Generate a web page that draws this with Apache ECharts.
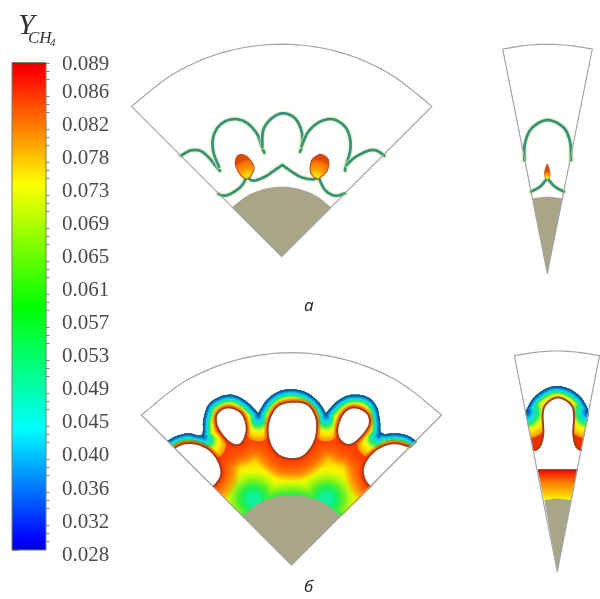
<!DOCTYPE html>
<html>
<head>
<meta charset="utf-8">
<style>html,body{margin:0;padding:0;background:#fff}#chart{width:600px;height:599px}</style>
<script src="https://cdn.jsdelivr.net/npm/echarts@6/dist/echarts.min.js"></script>
</head>
<body>
<div id="chart"></div>
<script>
// colour bar
var tickValues = [0.02800,0.03213,0.03626,0.04039,0.04452,0.04865,0.05278,0.05691,0.06104,0.06517,0.06930,0.07343,0.07756,0.08169,0.08582,0.08900];
var barColors = ['#0000c8','#0000ff','#00ffff','#00ff00','#ffff00','#ff0000','#e00000'];
var barStops = [0,0.02,0.25,0.5,0.75,0.98,1];

// панель а, слева  (a repeated point is a sharp corner)
var sectorA = [[281.7,256.7],[281.7,256.7],[131.4,106.4],[131.4,106.4],[175.5,72.7],[226.7,51.4],[281.7,44.2],[336.7,51.4],[387.9,72.7],[432,106.4],[432,106.4],[281.7,256.7],[281.7,256.7]];
var drumA = [[232,207.5],[232,207.5],[246.7,196],[263.6,189.1],[281.7,186.7],[299.8,189.1],[316.7,196],[331.2,207.5],[331.2,207.5],[281.7,256.7],[281.7,256.7]];
var aShoulderL = [[181,155.7],[190,150.7],[200,150.7],[208.3,157],[215,165],[220,170.7]];
var aLobe1 = [[219,166.7],[213.3,151.7],[213.3,136.7],[220,125],[231.7,119.3],[245,121.7],[256.7,133.3],[261.7,146.7],[264.3,152.7]];
var aLobe2 = [[262.3,146.7],[263.3,130],[271.7,118.3],[283.3,113.3],[295,118.3],[301.7,131.7],[301.7,146],[300,151.7]];
var aLobe3 = [[301.7,146],[308.3,131.7],[320,121.7],[333.3,119.3],[345,126.7],[350,138.3],[350,151.7],[346,165],[345,170.7]];
var aShoulderR = [[346.7,165],[355,157.3],[368.3,150.7],[376.7,150.7],[384.3,155.7]];
var aLower = [[218.3,194],[225,195.7],[233.3,192.3],[241.7,185.7],[246.7,176.7],[246.7,176.7],[253.3,180.7],[265,176.7],[275,170],[282.3,165],[282.3,165],[291.7,171.7],[301.7,177.3],[313.3,179.3],[318.3,176.7],[318.3,176.7],[325,190],[335,195.7],[345,193.3]];
var aBlobL = [[241,154.5],[248,157.5],[253.8,166.7],[252,174],[247,179],[240.5,175],[235.5,165],[236.5,157.5]];
var aBlobR = [[321.7,154.5],[328.5,160],[327.5,170],[322,176],[316.7,179],[310.5,172],[311.5,161],[316.5,156]];

// панель а, справа
var sectorA2 = [[547.3,273.3],[547.3,273.3],[502.7,49],[502.7,49],[525,45.5],[547.3,44.3],[569.8,45.5],[592.3,49],[592.3,49],[547.3,273.3],[547.3,273.3]];
var drumA2 = [[532.7,198.3],[532.7,198.3],[547.3,196.7],[562.7,198.3],[562.7,198.3],[547.3,273.3],[547.3,273.3]];
var a2Arch = [[524.3,160],[525,143.3],[531.7,128.3],[547.3,120],[563.3,127.3],[570,141.7],[571,160]];
var a2Lower = [[531,191.7],[540,186.7],[547.3,178.3],[547.3,178.3],[555,186.7],[564,191.7]];
var a2Blob = [[547.3,164],[549.5,170],[550,176],[547.3,180],[544.6,176],[545,170]];

// панель б, слева
var sectorB = [[291.5,565],[291.5,565],[141.4,415],[141.4,415],[185.3,381.1],[236.5,360],[291.5,352.7],[346.5,360],[397.7,381.1],[441.6,415],[441.6,415],[291.5,565],[291.5,565]];
var drumB = [[243,516],[243,516],[257,504.4],[273.7,497.4],[291.5,495],[309.6,497.4],[326.5,504.4],[340.5,516],[340.5,516],[291.5,565],[291.5,565]];
var bOuter = [[167.7,440.7],[176.7,436],[188.3,433.3],[201.7,435],[203.3,420],[208.3,405],[220,396.7],[233.3,395],[246.7,401.7],[258.3,413.3],[258.3,413.3],[266.7,400],[278.3,391.7],[292.3,389.3],[306.7,392.7],[318.3,401.7],[326,413.3],[326,413.3],[336.7,401.7],[350,395],[366.7,396.7],[376.7,406.7],[380,421.7],[381.7,433.3],[396.7,433.3],[408.3,436],[416.7,441.7]];
var bApex = [[416.7,441.7],[291.5,565],[291.5,565],[167.7,440.7],[167.7,440.7]];
var bPockets = [[258.3,413.3],[326,413.3],[202,435],[381,433.5]];
var bPocketDirs = [[0,1],[0,1],[0.7,0.7],[-0.7,0.7]];
var bHoleC = [[292.3,401.7],[308.3,405],[316.7,420],[315,440],[305,455],[292.3,459],[278.3,455],[269.3,441.7],[268.3,423.3],[276.7,406.7]];
var bHoleL = [[228.3,407.3],[241.7,413.3],[246.7,428.3],[242.7,441.7],[235,445],[225,438.3],[216.7,425],[217.3,413.3]];
var bHoleR = [[354,407.3],[367.3,413.3],[369.3,425],[360,438.3],[349.3,445],[340,440],[337.3,428.3],[343.3,413.3]];
var bCutL = [[170,450],[170,450],[175,447.3],[185,443.3],[198.3,444.3],[211.7,451.7],[220,465],[220.7,476.7],[213.3,486.7],[205,492],[205,492]];
var bCutR = [[414,450],[414,450],[409.3,446.7],[396.7,443.3],[385,445],[371.7,453.3],[363.3,466.7],[364.3,478.3],[370,486.7],[378,492],[378,492]];
var bSeeds = [[253.3,499],[326.7,499]];
var bDrumTop = [[243,516],[257,504.4],[273.7,497.4],[291.5,495],[309.6,497.4],[326.5,504.4],[340.5,516]];

// панель б, справа
var sectorB2 = [[557.3,571.7],[557.3,571.7],[514.3,355.7],[514.3,355.7],[535.7,352.3],[557.3,351],[578.7,352.3],[599.5,355.7],[599.5,355.7],[557.3,571.7],[557.3,571.7]];
var drumB2 = [[544.3,500],[544.3,500],[557.3,498.5],[571,500],[571,500],[557.3,571.7],[557.3,571.7]];
var b2Arch = [[525.4,411.7],[533.3,398.3],[545,389.3],[556.7,386],[570,389.3],[581.7,398.3],[589,411.7]];
var b2Clip = [[589,411.7],[581.6,451],[581.6,451],[532.9,451],[532.9,451],[525.4,411.7]];
var b2Ends = [[526,412],[588.5,412]];
var b2Hole = [[530,453],[530,453],[536,450],[540.5,445],[543.3,433.3],[542.7,413.3],[546.7,403.3],[558,397.3],[570,403.3],[574,413.3],[573.3,433.3],[575.5,445],[580,450],[585,453],[585,453]];
var b2Gas = [[537.7,469.3],[577.7,469.3],[571,500],[544,500]];

// цвета полос у фронта (от холодного к горячему задаются расстоянием d)
var bandD = [14,13,12,11,10,9,8,7,6,5,4,3,2,1.2];
var bandC = ['#ff9c00','#ffb400','#ffd000','#ffe800','#f4f800','#c8f820','#80f040','#30e860','#10e8a0','#10e0d0','#10c8e8','#0898dc','#0870b8','#0a5a90'];
var fieldD = [50,47,44,41,38,35,33,31,29,27,25,23,21,19,17,15,13,11,9,7,5];
var fieldC = ['#ff9600','#ffa000','#ffaa00','#ffb600','#ffc200','#ffce00','#ffda00','#ffe600','#fff000','#f0f400','#e0f800','#c4f808','#a8f810','#8cf418','#70f020','#50f030','#30f040','#20f058','#10f070','#10f088','#10f0a0'];
var gasStops = [0,0.08,0.45,0.8,0.95,1];
var gasColors = ['#a81000','#f01800','#ff8000','#ffc800','#fff000','#ffff90'];

function xy(api, pts) { return pts.map(function (p) { return api.coord(p); }); }

// Catmull-Rom in pixels; a repeated point breaks the curve into runs
function smoothRun(p, closed) {
    var out = [], n = p.length, cnt = closed ? n : n - 1;
    if (n < 3) return p.slice();
    for (var i = 0; i < cnt; i++) {
        var a = closed ? p[(i - 1 + n) % n] : p[Math.max(i - 1, 0)];
        var b = p[i], c = p[(i + 1) % n];
        var d = closed ? p[(i + 2) % n] : p[Math.min(i + 2, n - 1)];
        for (var k = 0; k < 8; k++) {
            var t = k / 8, t2 = t * t, t3 = t2 * t;
            out.push([
                0.5 * (2 * b[0] + (c[0] - a[0]) * t + (2 * a[0] - 5 * b[0] + 4 * c[0] - d[0]) * t2 + (3 * b[0] - a[0] - 3 * c[0] + d[0]) * t3),
                0.5 * (2 * b[1] + (c[1] - a[1]) * t + (2 * a[1] - 5 * b[1] + 4 * c[1] - d[1]) * t2 + (3 * b[1] - a[1] - 3 * c[1] + d[1]) * t3)
            ]);
        }
    }
    if (!closed) out.push(p[n - 1]);
    return out;
}
function curve(api, pts, closed) {
    var p = xy(api, pts), runs = [], run = [p[0]], hasCorner = false;
    for (var i = 1; i < p.length; i++) {
        if (p[i][0] === p[i - 1][0] && p[i][1] === p[i - 1][1]) { runs.push(run); run = [p[i]]; hasCorner = true; }
        else run.push(p[i]);
    }
    runs.push(run);
    if (!hasCorner) return smoothRun(p, !!closed);
    var out = [];
    runs.forEach(function (r) { out = out.concat(smoothRun(r, false)); });
    return out;
}
function line(points, color, width, extra) {
    var style = { fill: null, stroke: color, lineWidth: width, lineJoin: 'round', lineCap: 'round' };
    if (extra) style.opacity = extra;
    return { type: 'polyline', shape: { points: points }, style: style };
}
function poly(points, fill, stroke, width) {
    return { type: 'polygon', shape: { points: points }, style: { fill: fill, stroke: stroke || null, lineWidth: width || 0, lineJoin: 'round' } };
}
function dot(api, p, r, color) {
    var c = api.coord(p);
    return { type: 'circle', shape: { cx: c[0], cy: c[1], r: r }, style: { fill: color } };
}
function blobFill(x, y) {
    return new echarts.graphic.RadialGradient(x, y, 1, [
        { offset: 0, color: '#30e040' }, { offset: 0.14, color: '#c8f020' }, { offset: 0.28, color: '#ffd000' },
        { offset: 0.5, color: '#ffa000' }, { offset: 0.85, color: '#ff7000' }, { offset: 1, color: '#d84a08' }
    ]);
}
function thinFront(points) {
    return [line(points, '#dcf4a0', 5.5, 0.6), line(points, '#3a8f84', 2.8)];
}
function glowRing(h, points, w, alpha) {
    return { type: h, shape: { points: points }, style: { fill: null, stroke: '#ff2800', lineWidth: w, opacity: alpha, lineJoin: 'round' } };
}

function drawPanelB(api) {
    var kids = [poly(curve(api, bOuter.concat(bApex)), '#ff8c00')];
    fieldD.forEach(function (d, i) {
        bSeeds.forEach(function (s) { kids.push(dot(api, s, d * 1.1, fieldC[i])); });
        if (d > 11) kids.push(line(curve(api, bDrumTop), fieldC[i], 2 * (d - 11)));
    });
    var holes = [bHoleL, bHoleC, bHoleR], cuts = [bCutL, bCutR];
    // red glow below the holes goes under the front bands
    [36, 32, 28, 24, 20, 16, 12, 8].forEach(function (w) {
        holes.forEach(function (h) {
            var low = h.map(function (p) { return [p[0], p[1] + 3.5]; });
            kids.push(glowRing('polygon', curve(api, low, true), w, 0.14));
        });
        cuts.forEach(function (h) { kids.push(glowRing('polyline', curve(api, h), w, 0.14)); });
    });
    var outer = curve(api, bOuter);
    bandD.forEach(function (d, i) {
        kids.push(line(outer, bandC[i], d * 2));
        // the bands run deeper under the cusps between lobes
        bPockets.forEach(function (p, j) {
            var tip = [p[0] + bPocketDirs[j][0] * d, p[1] + bPocketDirs[j][1] * d];
            kids.push(line(xy(api, [p, tip]), bandC[i], d * 2));
        });
    });
    // thin hot edge on top of the bands
    [7, 5].forEach(function (w) {
        holes.forEach(function (h) { kids.push(glowRing('polygon', curve(api, h, true), w, 0.3)); });
        cuts.forEach(function (h) { kids.push(glowRing('polyline', curve(api, h), w, 0.3)); });
    });
    holes.forEach(function (h) { kids.push(poly(curve(api, h, true), '#fff', '#a83a10', 2)); });
    cuts.forEach(function (h) { kids.push(poly(curve(api, h), '#fff', '#a83a10', 2)); });
    return { type: 'group', clipPath: { type: 'polygon', shape: { points: curve(api, bOuter.concat(bApex)) } }, children: kids };
}

function drawPanelB2(api) {
    var arch = curve(api, b2Arch);
    var kids = [poly(curve(api, b2Arch.concat(b2Clip)), '#e83000')];
    bandD.forEach(function (d, i) {
        kids.push(line(arch, bandC[i], d * 2));
        b2Ends.forEach(function (p) { kids.push(dot(api, p, d * 1.9, bandC[i])); });
    });
    kids.push(poly(curve(api, b2Hole), '#fff', '#a83a10', 2));
    return { type: 'group', clipPath: { type: 'polygon', shape: { points: curve(api, b2Arch.concat(b2Clip)) } }, children: kids };
}

function renderScene(params, api) {
    var kids = [];
    // а
    [aShoulderL, aLobe1, aLobe2, aLobe3, aShoulderR, aLower, a2Arch, a2Lower].forEach(function (c) {
        kids = kids.concat(thinFront(curve(api, c)));
    });
    kids.push(poly(curve(api, aBlobL, true), blobFill(0.72, 0.98), '#c8501a', 1.2));
    kids.push(poly(curve(api, aBlobR, true), blobFill(0.3, 0.98), '#c8501a', 1.2));
    kids.push(poly(curve(api, a2Blob, true), blobFill(0.5, 0.85), '#b05a20', 0.6));
    // б
    kids.push(drawPanelB(api));
    kids.push(drawPanelB2(api));
    kids.push(poly(xy(api, b2Gas), new echarts.graphic.LinearGradient(0, 0, 0, 1, gasStops.map(function (s, i) {
        return { offset: s, color: gasColors[i] };
    }))));
    // вставки и контуры секторов
    [drumA, drumA2, drumB, drumB2].forEach(function (d) { kids.push(poly(curve(api, d), '#a9a588')); });
    [sectorA, sectorA2, sectorB, sectorB2].forEach(function (s) { kids.push(line(curve(api, s), '#a4a4a4', 1.2)); });
    return { type: 'group', children: kids };
}

function renderBar(params, api) {
    var top = api.coord([0, api.value(1)]), bottom = api.coord([1, api.value(0)]);
    return {
        type: 'rect',
        shape: { x: top[0], y: top[1], width: bottom[0] - top[0], height: bottom[1] - top[1] },
        style: {
            stroke: '#77806a', lineWidth: 1,
            fill: new echarts.graphic.LinearGradient(0, 1, 0, 0, barStops.map(function (s, i) {
                return { offset: s, color: barColors[i] };
            }))
        }
    };
}

var minorValues = [];
tickValues.slice(0, 15).forEach(function (v) {
    for (var k = 1; k < 4; k++) minorValues.push(v + k * 0.0010325);
});

var chart = echarts.init(document.getElementById('chart'));
var option = {
    animation: false,
    backgroundColor: '#fff',
    grid: [
        { left: 0, right: 0, top: 0, bottom: 0 },
        { left: 12, width: 34, top: 62.5, height: 487.5 }
    ],
    xAxis: [
        { type: 'value', min: 0, max: 600, show: false },
        { type: 'value', min: 0, max: 1, show: false, gridIndex: 1 }
    ],
    yAxis: [
        { type: 'value', min: 0, max: 599, inverse: true, show: false },
        {
            type: 'value', gridIndex: 1, position: 'right', min: 0.028, max: 0.089, scale: true,
            splitLine: { show: false },
            axisLine: { show: true, lineStyle: { color: '#8a8f80' } },
            axisTick: { show: true, customValues: tickValues, length: 7, lineStyle: { color: '#8a8a8a' } },
            axisLabel: {
                show: true, customValues: tickValues, margin: 16,
                formatter: function (v) {
                    return (v === tickValues[15] ? '{t|' : '{n|') + v.toFixed(3) + '}';
                },
                rich: {
                    n: { color: '#4a4a4a', fontFamily: 'Liberation Serif', fontSize: 21, padding: [10, 0, 0, 0] },
                    t: { color: '#4a4a4a', fontFamily: 'Liberation Serif', fontSize: 21, padding: [4, 0, 0, 0] }
                }
            }
        },
        {
            type: 'value', gridIndex: 1, position: 'right', min: 0.028, max: 0.089, scale: true,
            splitLine: { show: false },
            axisLine: { show: false },
            axisTick: { show: true, customValues: minorValues, length: 3.5, lineStyle: { color: '#8a8a8a' } },
            axisLabel: { show: false }
        }
    ],
    graphic: [
        { type: 'text', left: 18, top: 11, style: { text: 'Y', font: 'italic 30px "Liberation Serif"', fill: '#333' } },
        { type: 'text', left: 28, top: 30, style: { text: 'CH', font: 'italic 17px "Liberation Serif"', fill: '#333' } },
        { type: 'text', left: 50, top: 38, style: { text: '4', font: 'italic 11px "Liberation Serif"', fill: '#333' } },
        { type: 'text', left: 304, top: 298, style: { text: 'а', font: 'italic 17px "Open Sans"', fill: '#222' } },
        { type: 'text', left: 304, top: 579, style: { text: 'б', font: 'italic 17px "Open Sans"', fill: '#222' } }
    ],
    series: [
        { type: 'custom', silent: true, clip: false, data: [[0, 0]], renderItem: renderScene },
        {
            type: 'custom', silent: true, xAxisIndex: 1, yAxisIndex: 1,
            encode: { x: 2, y: 1 }, data: [[0.028, 0.089, 0]], renderItem: renderBar
        }
    ]
};
chart.setOption(option);
</script>
</body>
</html>
